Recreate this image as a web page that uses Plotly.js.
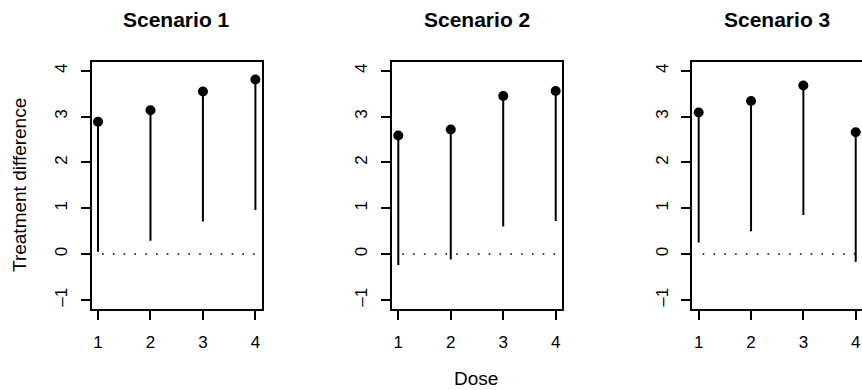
<!DOCTYPE html>
<html>
<head>
<meta charset="utf-8">
<script src="https://cdn.plot.ly/plotly-3.0.1.min.js"></script>
<style>html,body{margin:0;padding:0;background:#fff;}#chart{width:862px;height:390px;}</style>
</head>
<body>
<div id="chart"></div>
<script>
// ---- data ----
const doses = [1, 2, 3, 4];
const scenarioTitles = ["Scenario 1", "Scenario 2", "Scenario 3"];
const estimate1 = [2.89, 3.14, 3.55, 3.81];
const lower1    = [0.05, 0.29, 0.71, 0.96];
const estimate2 = [2.59, 2.72, 3.45, 3.56];
const lower2    = [-0.24, -0.12, 0.60, 0.72];
const estimate3 = [3.09, 3.34, 3.68, 2.66];
const lower3    = [0.25, 0.50, 0.85, -0.17];
const yTicks = [-1, 0, 1, 2, 3, 4];
const refValue = 0;
const xLabel = "Dose";
const yLabel = "Treatment difference";

const estimates = [estimate1, estimate2, estimate3];
const lowers = [lower1, lower2, lower3];

const FONT = "Liberation Sans, Arial, Helvetica, sans-serif";
const W = 862, H = 390;
const panelLeft = [91.7, 392.0, 692.4];
const panelWidth = 170;
const boxTop = 61.7, boxBottom = 309;

const traces = [];
const layout = {
  width: W, height: H,
  margin: {l: 0, r: 0, t: 0, b: 0},
  paper_bgcolor: "#fff", plot_bgcolor: "#fff",
  showlegend: false,
  font: {family: FONT, color: "#000"},
  annotations: [],
  hovermode: false
};

for (let i = 0; i < 3; i++) {
  const sfx = i === 0 ? "" : String(i + 1);
  const xa = "x" + sfx, ya = "y" + sfx;
  // reference dotted line
  traces.push({
    x: [doses[0], doses[doses.length - 1]],
    y: [refValue, refValue],
    xaxis: xa, yaxis: ya,
    mode: "lines",
    line: {color: "#000", width: 1.6, dash: "0px,4px,1.6px,5.2px"},
    hoverinfo: "skip"
  });
  // estimates with lower bound segments
  traces.push({
    x: doses,
    y: estimates[i],
    xaxis: xa, yaxis: ya,
    mode: "markers",
    marker: {color: "#000", size: 10},
    cliponaxis: false,
    error_y: {
      type: "data", symmetric: false,
      array: doses.map(() => 0),
      arrayminus: estimates[i].map((v, k) => v - lowers[i][k]),
      color: "#000", thickness: 2, width: 0
    }
  });
  const x0 = panelLeft[i] / W, x1 = Math.min(1, (panelLeft[i] + panelWidth) / W);
  layout["xaxis" + sfx] = {
    domain: [x0, x1], anchor: ya,
    range: [0.88, 4.12],
    tickvals: doses, ticktext: doses.map(String),
    ticks: "outside", ticklen: 9, tickwidth: 2, tickcolor: "#000",
    ticklabelstandoff: 8,
    showline: true, linewidth: 2, linecolor: "#000", mirror: true,
    showgrid: false, zeroline: false,
    tickfont: {family: FONT, size: 17, color: "#000"},
    fixedrange: true
  };
  layout["yaxis" + sfx] = {
    domain: [1 - boxBottom / H, 1 - boxTop / H], anchor: xa,
    range: [-1.2, 4.2],
    tickvals: yTicks, ticktext: yTicks.map(v => v < 0 ? "\u2013" + Math.abs(v) : String(v)),
    tickangle: -90,
    ticks: "outside", ticklen: 9, tickwidth: 2, tickcolor: "#000",
    ticklabelstandoff: 7,
    showline: true, linewidth: 2, linecolor: "#000", mirror: true,
    showgrid: false, zeroline: false,
    tickfont: {family: FONT, size: 17, color: "#000"},
    fixedrange: true
  };
  layout.annotations.push({
    text: "<b>" + scenarioTitles[i] + "</b>",
    xref: "paper", yref: "paper",
    x: (panelLeft[i] + panelWidth / 2) / W, y: 1 - 19.5 / H,
    xanchor: "center", yanchor: "middle", showarrow: false,
    font: {family: FONT, size: 21, color: "#000"}
  });
}
layout.annotations.push({
  text: yLabel, xref: "paper", yref: "paper",
  x: 19 / W, y: 1 - 185 / H, textangle: -90,
  xanchor: "center", yanchor: "middle", showarrow: false,
  font: {family: FONT, size: 19, color: "#000"}
});
layout.annotations.push({
  text: xLabel, xref: "paper", yref: "paper",
  x: 476 / W, y: 0,
  xanchor: "center", yanchor: "bottom", showarrow: false,
  borderpad: 0,
  font: {family: FONT, size: 19, color: "#000"}
});

Plotly.newPlot("chart", traces, layout, {displayModeBar: false, staticPlot: true});
</script>
</body>
</html>
